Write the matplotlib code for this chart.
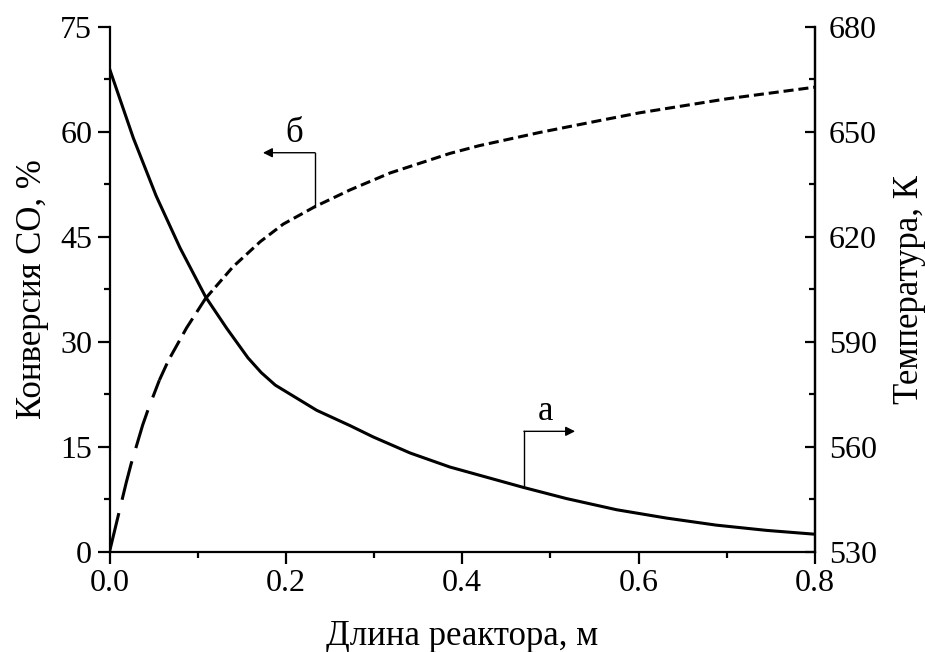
import matplotlib
matplotlib.use("Agg")
import matplotlib.pyplot as plt
from matplotlib.ticker import MultipleLocator

plt.rcParams['font.family'] = ['Liberation Serif', 'DejaVu Serif']

# curve "а": temperature along the reactor, K (right axis)
len_a = [0.0, 0.027, 0.053, 0.080, 0.109, 0.133, 0.157, 0.172, 0.188, 0.235,
         0.273, 0.299, 0.341, 0.386, 0.469, 0.518, 0.575, 0.632, 0.688, 0.745,
         0.800]
temp_a = [668.0, 648.2, 631.6, 616.8, 602.8, 593.8, 585.4, 581.2, 577.6, 570.4,
          566.0, 562.8, 558.2, 554.2, 548.4, 545.2, 542.0, 539.6, 537.6, 536.1,
          535.0]

# curve "б": CO conversion, % (left axis)
len_b = [0.0, 0.019, 0.0244, 0.0376, 0.044, 0.0565, 0.0667, 0.0875, 0.109, 0.140,
         0.171, 0.197, 0.233, 0.273, 0.318, 0.386, 0.419, 0.488, 0.556, 0.601,
         0.700, 0.802]
conv_b = [0.0, 9.9, 12.5, 18.1, 20.4, 24.5, 27.3, 32.0, 36.2, 40.7,
          44.3, 46.8, 49.3, 51.7, 54.1, 56.9, 58.0, 59.9, 61.6, 62.7,
          64.7, 66.4]

fig = plt.figure(figsize=(9.25, 6.52), dpi=100)
ax = fig.add_axes([0.1184, 0.1538, 0.7626, 0.8052])
ax2 = ax.twinx()

lw = 2.2

# Origin-style dashes: long on the steep start, shorter further on
pieces = [(0, 6, (13, 4.5)), (5, 9, (6, 2.5)), (8, len(len_b), (3.3, 1.6))]
for i0, i1, dsh in pieces:
    ax.plot(len_b[i0:i1], conv_b[i0:i1], color='black', lw=lw, dashes=dsh)

ax2.plot(len_a, temp_a, color='black', lw=lw)

ax.set_xlim(0, 0.8)
ax.set_ylim(0, 75)
ax2.set_ylim(530, 680)

ax.xaxis.set_major_locator(MultipleLocator(0.2))
ax.xaxis.set_minor_locator(MultipleLocator(0.1))
ax.yaxis.set_major_locator(MultipleLocator(15))
ax.yaxis.set_minor_locator(MultipleLocator(7.5))
ax2.yaxis.set_major_locator(MultipleLocator(30, offset=530))
ax2.yaxis.set_minor_locator(MultipleLocator(15, offset=530))
ax.xaxis.set_major_formatter(plt.FuncFormatter(lambda v, p: f"{v:.1f}"))

for a in (ax, ax2):
    a.spines['top'].set_visible(False)
    for s in a.spines.values():
        s.set_linewidth(1.6)
ax2.spines['left'].set_visible(False)
ax2.spines['bottom'].set_visible(False)

ax.tick_params(axis='both', which='major', direction='out', length=8.5, width=1.6,
               labelsize=23, pad=4)
ax.tick_params(axis='both', which='minor', direction='out', length=4.5, width=1.6)
ax2.tick_params(axis='y', which='major', direction='in', length=7.5, width=1.6,
                labelsize=23, pad=10)
ax2.tick_params(axis='y', which='minor', direction='in', length=4.5, width=1.6)

ax.set_xlabel('Длина реактора, м', fontsize=25, labelpad=16)
ax.set_ylabel('Конверсия СО, %', fontsize=25, labelpad=8)
ax2.set_ylabel('Температура, К', fontsize=25, labelpad=12)

# bracket markers pointing each curve to its axis
ax.annotate('', xy=(0.174, 57.0), xytext=(0.233, 57.0),
            arrowprops=dict(arrowstyle='-|>', color='black', lw=1.0,
                            mutation_scale=14, shrinkA=0, shrinkB=0))
ax.plot([0.233, 0.233], [49.3, 57.0], color='black', lw=1.0)
ax.text(0.210, 59.8, 'б', fontsize=25, ha='center', va='center')

ax.annotate('', xy=(0.528, 17.2), xytext=(0.470, 17.2),
            arrowprops=dict(arrowstyle='-|>', color='black', lw=1.0,
                            mutation_scale=14, shrinkA=0, shrinkB=0))
ax.plot([0.470, 0.470], [9.2, 17.2], color='black', lw=1.0)
ax.text(0.494, 20.0, 'а', fontsize=25, ha='center', va='center')

fig.savefig('out.png', dpi=100)
